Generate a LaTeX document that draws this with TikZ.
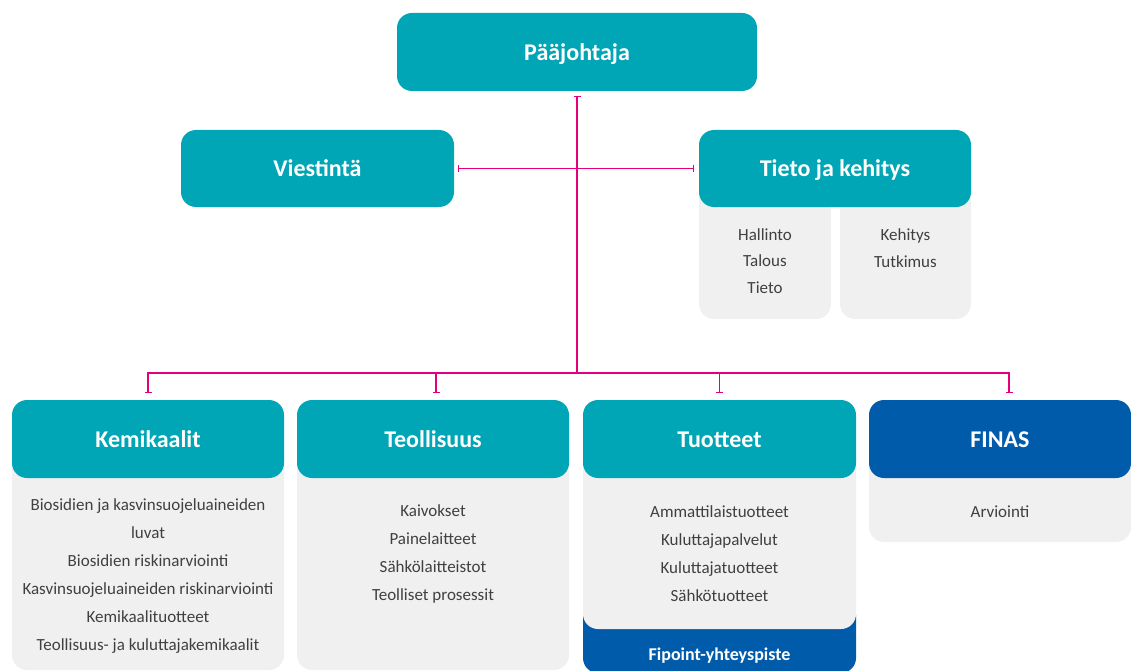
\documentclass[tikz,border=0pt]{standalone}
\usepackage{fontspec}
\setmainfont{Carlito}
\usetikzlibrary{arrows.meta}
\definecolor{hdteal}{RGB}{0,165,182}
\definecolor{hdblue}{RGB}{0,91,170}
\definecolor{boxgray}{RGB}{240,240,240}
\definecolor{linemag}{RGB}{228,0,124}
\definecolor{txtgray}{RGB}{64,64,64}
\begin{document}
\begin{tikzpicture}[x=1pt,y=-1pt,
  hdr/.style={fill=hdteal, rounded corners=15pt, inner sep=0pt, outer sep=0pt, text=white,
    font=\fontsize{24}{28}\selectfont\bfseries, minimum height=78pt, text height=17pt, text depth=0.5pt},
  graybox/.style={fill=boxgray, rounded corners=15pt, inner sep=0pt, outer sep=0pt},
  bluebox/.style={fill=hdblue, rounded corners=15pt, inner sep=0pt, outer sep=0pt},
  items/.style={text=txtgray, align=center, inner sep=0pt, font=\fontsize{17}{28}\selectfont},
  conn/.style={draw=linemag, line width=1.3pt},
  bartip/.style={arrows={Bar[width=7pt]-Bar[width=7pt]}}]
\useasboundingbox (0,0) rectangle (1131,671);
\begin{scope}
\clip (0,0) rectangle (1131,671);
% gray content boxes
\node[graybox, minimum width=272pt, minimum height=230pt] (kmg) at (148,555) {};
\node[graybox, minimum width=272pt, minimum height=230pt] (tog) at (433,555) {};
\node[bluebox, minimum width=273pt, minimum height=73pt] (fp) at (719.5,636.5) {};
\node[graybox, minimum width=273pt, minimum height=189pt] (tug) at (719.5,534.5) {};
\node[graybox, minimum width=262pt, minimum height=102pt] (fig) at (1000,491) {};
\node[graybox, minimum width=132pt, minimum height=139pt] (hag) at (765,249.5) {};
\node[graybox, minimum width=131pt, minimum height=139pt] (keg) at (905.5,249.5) {};
% headers
\node[hdr, minimum width=360pt] (pj) at (577,52) {Pääjohtaja};
\node[hdr, minimum width=273pt, minimum height=77pt] (vi) at (317.5,168.5) {Viestintä};
\node[hdr, minimum width=272pt, minimum height=77pt] (tk) at (835,168.5) {Tieto ja kehitys};
\node[hdr, minimum width=272pt] (km) at (148,439) {Kemikaalit};
\node[hdr, minimum width=272pt] (to) at (433,439) {Teollisuus};
\node[hdr, minimum width=273pt] (tu) at (719.5,439) {Tuotteet};
\node[hdr, fill=hdblue, minimum width=262pt] (fi) at (1000,439) {FINAS};
% item lists
\node[items] (kml) at (148,576) {Biosidien ja kasvinsuojeluaineiden\\luvat\\Biosidien riskinarviointi\\Kasvinsuojeluaineiden riskinarviointi\\Kemikaalituotteet\\Teollisuus- ja kuluttajakemikaalit};
\node[items] (tol) at (433,554) {Kaivokset\\Painelaitteet\\Sähkölaitteistot\\Teolliset prosessit};
\node[items] (tul) at (719.5,554) {Ammattilaistuotteet\\Kuluttajapalvelut\\Kuluttajatuotteet\\Sähkötuotteet};
\node[items] (fil) at (1000,512) {Arviointi};
\node[items, font=\fontsize{17}{26.5}\selectfont] (hal) at (765,261) {Hallinto\\Talous\\Tieto};
\node[items, font=\fontsize{17}{26.5}\selectfont] (kel) at (905.5,248) {Kehitys\\Tutkimus};
\node[text=white, inner sep=0pt, font=\fontsize{18}{20}\selectfont\bfseries, text height=12.5pt, text depth=0pt] (fpt) at (719.5,654) {Fipoint-yhteyspiste};
% connectors
\coordinate (bus) at (577,373);
\draw[conn, arrows={Bar[width=7pt]-}] ([yshift=-5pt]pj.south) -- (pj.south |- bus);
\draw[conn, bartip] ([xshift=4pt]vi.east) -- ([xshift=-5pt]tk.west);
\draw[conn, bartip] ([yshift=7pt]km.north) -- (km.north |- bus)
   -- ([xshift=9pt]fi.north |- bus) -- ([xshift=9pt,yshift=7pt]fi.north);
\draw[conn, arrows={-Bar[width=7pt]}] ([xshift=3pt]to.north |- bus) -- ([xshift=3pt,yshift=7pt]to.north);
\draw[conn, arrows={-Bar[width=7pt]}] (tu.north |- bus) -- ([yshift=7pt]tu.north);
\end{scope}
\end{tikzpicture}
\end{document}
